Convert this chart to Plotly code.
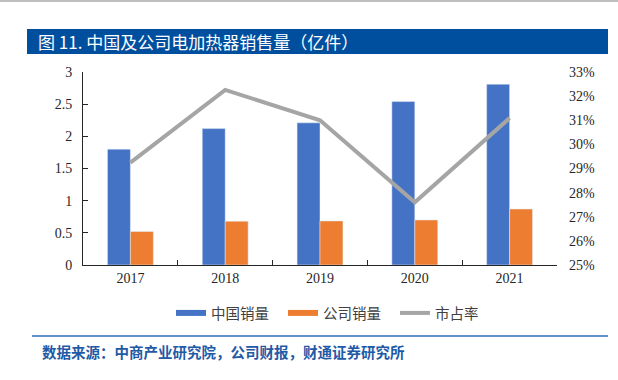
import plotly.graph_objects as go

years = ["2017", "2018", "2019", "2020", "2021"]
china_sales = [1.80, 2.12, 2.21, 2.54, 2.81]
company_sales = [0.52, 0.68, 0.685, 0.70, 0.87]
market_share = [0.2924, 0.3226, 0.3100, 0.2760, 0.3109]

left_tickvals = [0, 0.5, 1, 1.5, 2, 2.5, 3]
left_ticktext = ["0", "0.5", "1", "1.5", "2", "2.5", "3"]

series_names = ["中国销量", "公司销量", "市占率"]
title_text = "图 11. 中国及公司电加热器销售量（亿件）"
source_text = "数据来源：中商产业研究院，公司财报，财通证券研究所"

W, H = 618, 380
ML, MR, MT, MB = 83, 61, 72, 115
PW, PH = W - ML - MR, H - MT - MB


def px_x(px):
    return (px - ML) / PW


def px_y(py):
    return (H - MB - py) / PH


BLUE = "#4472C4"
ORANGE = "#ED7D31"
GREY = "#A5A5A5"
SERIF = "Liberation Serif"
SANS = "Noto Sans CJK SC"

fig = go.Figure()

# legend-only swatches (line style, as in the reference)
fig.add_trace(go.Scatter(x=[None], y=[None], mode="lines", name=series_names[0],
                         line=dict(color=BLUE, width=6), hoverinfo="skip"))
fig.add_trace(go.Scatter(x=[None], y=[None], mode="lines", name=series_names[1],
                         line=dict(color=ORANGE, width=6), hoverinfo="skip"))

fig.add_trace(go.Bar(x=years, y=china_sales, name=series_names[0], marker_color=BLUE,
                     showlegend=False))
fig.add_trace(go.Bar(x=years, y=company_sales, name=series_names[1], marker_color=ORANGE,
                     showlegend=False))
fig.add_trace(go.Scatter(x=years, y=market_share, name=series_names[2], mode="lines",
                         line=dict(color=GREY, width=4), yaxis="y2"))

shapes = [
    # top grey rule
    dict(type="line", xref="paper", yref="paper", x0=px_x(0), x1=px_x(W), y0=px_y(1), y1=px_y(1),
         line=dict(color="#BFBFBF", width=2)),
    # title banner
    dict(type="rect", xref="paper", yref="paper", x0=px_x(27), x1=px_x(608), y0=px_y(54), y1=px_y(29),
         fillcolor="#004F9F", line=dict(width=0), layer="below"),
    # source separator
    dict(type="line", xref="paper", yref="paper", x0=px_x(32), x1=px_x(608), y0=px_y(336), y1=px_y(336),
         line=dict(color="#2F6DB5", width=1.5)),
]

annotations = [
    dict(text=title_text, xref="paper", yref="paper", x=px_x(36), y=px_y(42),
         xanchor="left", yanchor="middle", showarrow=False,
         font=dict(family=SANS, size=17, color="white")),
    dict(text="<b>" + source_text + "</b>", xref="paper", yref="paper", x=px_x(40), y=px_y(351),
         xanchor="left", yanchor="middle", showarrow=False,
         font=dict(family=SANS, size=14.5, color="#1F5AA6")),
]

fig.update_layout(
    width=W, height=H,
    margin=dict(l=ML, r=MR, t=MT, b=MB, pad=0, autoexpand=False),
    paper_bgcolor="white", plot_bgcolor="white",
    barmode="group", bargap=0.516, bargroupgap=0,
    showlegend=True,
    legend=dict(orientation="h", x=px_x(339), xanchor="center", y=px_y(313), yanchor="middle",
                font=dict(family=SANS, size=14.5, color="#404040"), itemwidth=30,
                entrywidth=67, bgcolor="rgba(0,0,0,0)"),
    xaxis=dict(type="category", showline=True, linecolor="#262626", linewidth=1,
               ticks="inside", ticklen=5, tickcolor="#262626", tickson="boundaries",
               tickfont=dict(family=SERIF, size=14, color="#262626"), showgrid=False,
               zeroline=False),
    yaxis=dict(range=[0, 3], tickvals=left_tickvals, ticktext=left_ticktext,
               showline=True, linecolor="#262626", linewidth=1,
               ticks="inside", ticklen=5, tickcolor="#262626",
               tickfont=dict(family=SERIF, size=14, color="#262626"),
               showgrid=False, zeroline=False, ticklabelstandoff=7),
    yaxis2=dict(range=[0.25, 0.33], dtick=0.01, tickformat=".0%", overlaying="y", side="right",
                showline=False, ticks="", showgrid=False, zeroline=False,
                tickfont=dict(family=SERIF, size=14, color="#262626"), ticklabelstandoff=11),
    shapes=shapes,
    annotations=annotations,
)

fig.write_html("out.html", config={"displayModeBar": False},
               post_script="document.body.style.margin='0';document.body.style.padding='0';")
